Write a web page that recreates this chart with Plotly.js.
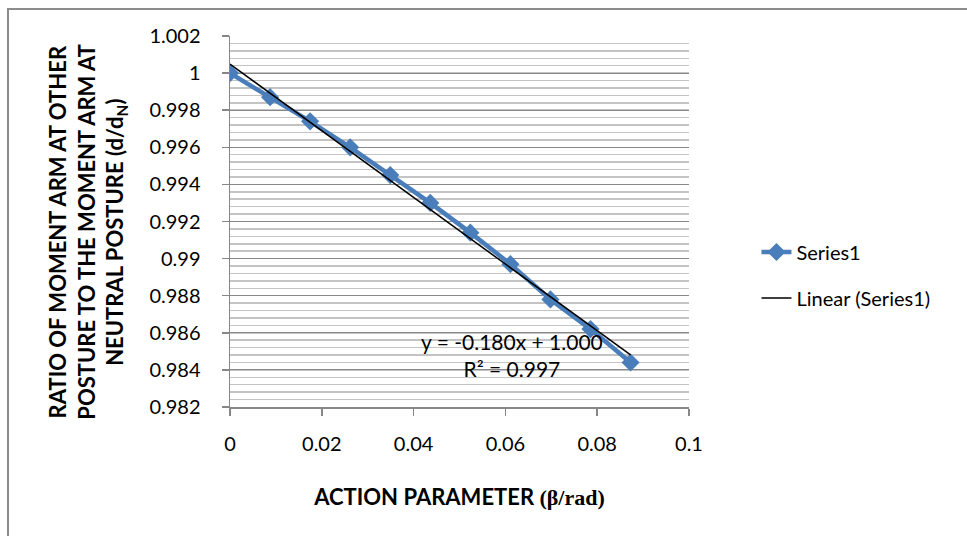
<!DOCTYPE html>
<html>
<head>
<meta charset="utf-8">
<script src="https://cdn.plot.ly/plotly-3.0.1.min.js"></script>
<style>
  html, body { margin: 0; padding: 0; background: #fff; }
  #wrap { position: relative; width: 967px; height: 536px; overflow: hidden; }
  #chart { width: 967px; height: 536px; }
  #frame { position: absolute; left: 7px; top: 8px; width: 1100px; height: 1100px;
           border-left: 2px solid #8c8c8c; border-top: 2px solid #8c8c8c; pointer-events: none; }
</style>
</head>
<body>
<div id="wrap">
  <div id="chart"></div>
  <div id="frame"></div>
</div>
<script>
// ---- data ----
const betaRad = [0, 0.00873, 0.01745, 0.02618, 0.03491, 0.04363, 0.05236, 0.06109, 0.06981, 0.07854, 0.08727];
const ratio   = [1.0000, 0.9987, 0.9974, 0.9960, 0.9945, 0.9930, 0.9914, 0.9897, 0.9878, 0.9862, 0.9844];

const xTickVals = [0, 0.02, 0.04, 0.06, 0.08, 0.1];
const xTickText = ['0', '0.02', '0.04', '0.06', '0.08', '0.1'];
const yTickVals = [1.002, 1.000, 0.998, 0.996, 0.994, 0.992, 0.990, 0.988, 0.986, 0.984, 0.982];
const yTickText = ['1.002', '1', '0.998', '0.996', '0.994', '0.992', '0.99', '0.988', '0.986', '0.984', '0.982'];

const equationText = 'y = -0.180x + 1.000<br>R² = 0.997';

// ---- least squares linear trendline from the data ----
const n = betaRad.length;
const mx = betaRad.reduce((a, b) => a + b, 0) / n;
const my = ratio.reduce((a, b) => a + b, 0) / n;
let sxy = 0, sxx = 0;
for (let i = 0; i < n; i++) { sxy += (betaRad[i] - mx) * (ratio[i] - my); sxx += (betaRad[i] - mx) ** 2; }
const slope = sxy / sxx;
const intercept = my - slope * mx;
const trendX = [betaRad[0], betaRad[n - 1]];
const trendY = trendX.map(x => intercept + slope * x);

const FONT = 'Lato, "Open Sans", "DejaVu Sans", sans-serif';
const BLUE = '#4a7ebb';
const GRID = '#878787';
const PAD = '\u00a0\u00a0\u00a0\u00a0';  // nudges the rotated title block down a little

const traces = [
  {
    x: betaRad, y: ratio, name: 'Series1', type: 'scatter', mode: 'lines+markers',
    line: { color: BLUE, width: 4.5 },
    marker: { symbol: 'diamond', size: 14, color: BLUE },
    legend: 'legend'
  },
  {
    x: trendX, y: trendY, name: 'Linear (Series1)', type: 'scatter', mode: 'lines',
    line: { color: '#000000', width: 1.5 },
    legend: 'legend2'
  }
];

const legendCommon = {
  font: { family: FONT, size: 20, color: '#000' },
  bgcolor: 'rgba(0,0,0,0)', borderwidth: 0,
  xref: 'paper', yref: 'paper', xanchor: 'left', yanchor: 'middle'
};

const layout = {
  width: 967, height: 536,
  paper_bgcolor: '#ffffff', plot_bgcolor: '#ffffff',
  margin: { l: 230, r: 278, t: 36, b: 129, pad: 0 },
  font: { family: FONT, size: 20, color: '#000' },
  showlegend: true,
  legend: Object.assign({}, legendCommon, { x: 1.147, y: (407 - 252) / 371 }),
  legend2: Object.assign({}, legendCommon, { x: 1.147, y: (407 - 298) / 371 }),
  xaxis: {
    range: [0, 0.1], autorange: false,
    tickvals: xTickVals, ticktext: xTickText,
    showgrid: false, zeroline: false,
    showline: true, linecolor: GRID, linewidth: 1.5,
    ticks: 'outside', ticklen: 7, tickcolor: GRID, tickwidth: 1.5,
    tickfont: { family: FONT, size: 20, color: '#000' },
    ticklabelstandoff: 11,
    title: {
      text: '<b>ACTION PARAMETER <span style="font-family:\'Liberation Serif\', serif">(β/rad)</span></b>',
      font: { family: FONT, size: 22, color: '#000' },
      standoff: 36
    }
  },
  yaxis: {
    range: [0.982, 1.002], autorange: false,
    tickvals: yTickVals, ticktext: yTickText,
    showgrid: true, gridcolor: GRID, gridwidth: 1,
    minor: { dtick: 0.0004, tick0: 0.982, showgrid: true, gridcolor: '#c4c4c4', gridwidth: 1.5, ticks: '' },
    zeroline: false,
    showline: true, linecolor: GRID, linewidth: 1.5,
    ticks: 'outside', ticklen: 7, tickcolor: GRID, tickwidth: 1.5,
    tickfont: { family: FONT, size: 20, color: '#000' },
    ticklabelstandoff: 17,
    title: {
      text: '<b>RATIO OF MOMENT ARM AT OTHER' + PAD + '<br>POSTURE TO THE MOMENT ARM AT' + PAD +
            '<br>NEUTRAL POSTURE (d/d<sub>N</sub>)' + PAD + '</b>',
      font: { family: FONT, size: 22, color: '#000' },
      standoff: 19
    }
  },
  annotations: [
    {
      text: equationText, xref: 'paper', yref: 'paper',
      x: (512 - 230) / 459, y: (407 - 355) / 371,
      xanchor: 'center', yanchor: 'middle', showarrow: false, align: 'center',
      font: { family: FONT, size: 21, color: '#000' }
    }
  ]
};

Plotly.newPlot('chart', traces, layout, { displayModeBar: false, staticPlot: true });
</script>
</body>
</html>
